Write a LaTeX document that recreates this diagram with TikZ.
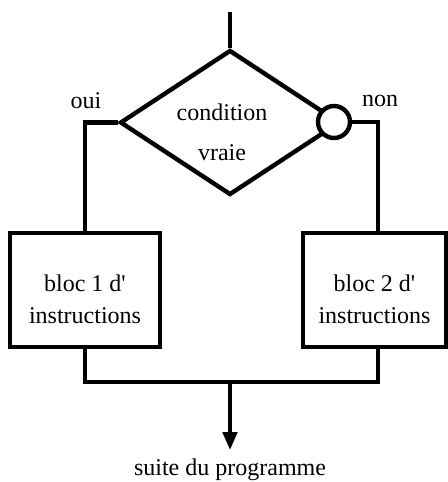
\documentclass[tikz,border=0pt]{standalone}
\usepackage{fontspec}
\setmainfont{Liberation Serif}
\usetikzlibrary{shapes.geometric,arrows.meta}
\newcommand{\haut}{\rule{0pt}{18pt}}

\begin{document}
\begin{tikzpicture}[x = .5pt, y = -.5pt, line width = 2.2pt,
  every node/.style = {font = \fontsize{12pt}{14.5pt}\selectfont},
  bloc/.style = {draw, align = center, inner sep = 0pt, minimum height = 57pt}]
\useasboundingbox (0,0) rectangle (447,482);
\coordinate (entree) at (230,12);
\node[draw, diamond, minimum width = 110pt, minimum height = 72.5pt, inner sep = 0pt] (cond) at (230,122.5) {};
\node[align = center] (cond_txt) at (222,132) {condition\\[5.5pt]vraie};
\node[draw, circle, fill = white, minimum size = 16pt, inner sep = 0pt] (non_pt) at (334,122) {};
\node (oui_lbl) at (86,101) {oui};
\node (non_lbl) at (380,101) {non};
\node[bloc, minimum width = 75pt] (bloc_un) at (85,290) {\haut bloc 1 d\textquotesingle\\[1.5pt]instructions};
\node[bloc, minimum width = 71.5pt] (bloc_deux) at (374.5,290) {\haut bloc 2 d\textquotesingle\\[1.5pt]instructions};
\coordinate (jonction) at (230,382);
\node (suite) at (230,470) {suite du programme};
\draw (entree) -- (cond.north);
\draw (cond.west) -| (bloc_un.north);
\draw (non_pt.east) -| ([xshift = 1.75pt]bloc_deux.north);
\draw (bloc_un.south) |- (jonction) -| ([xshift = 1.75pt]bloc_deux.south);
\draw[-{Triangle[width = 7pt, length = 9pt]}] (jonction) -- (suite.north);
\end{tikzpicture}
\end{document}
